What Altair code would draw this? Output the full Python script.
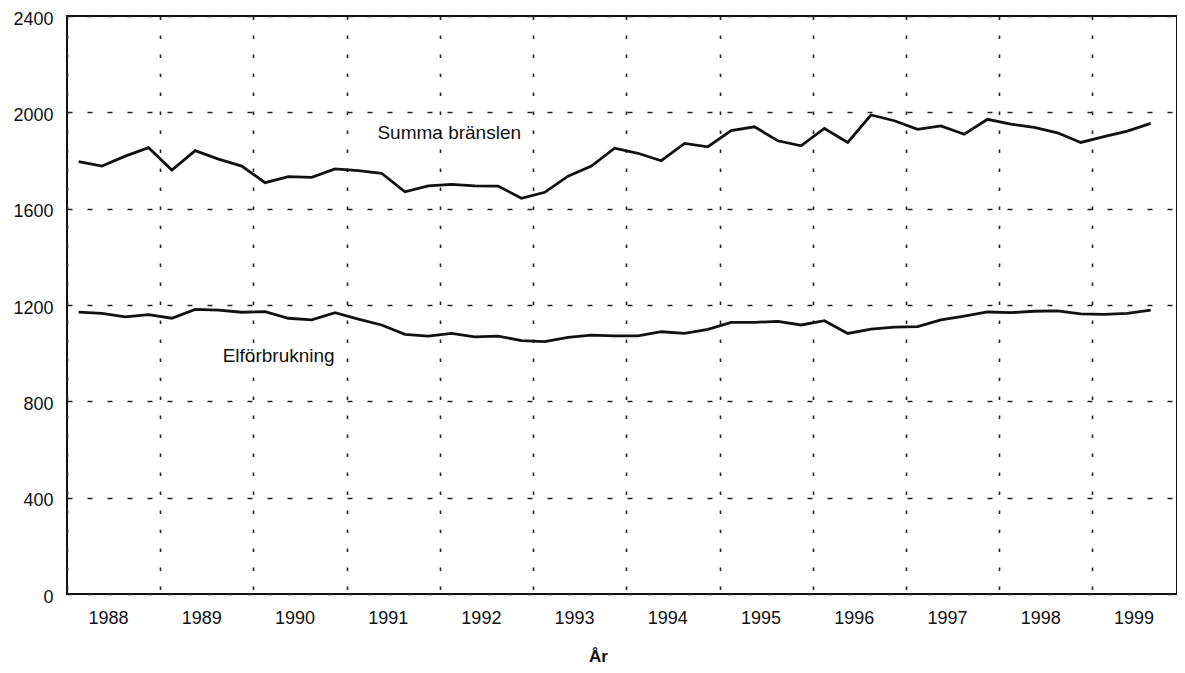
import altair as alt
import pandas as pd

# Quarterly values, 1988 Q1 .. 1999 Q3
start_year = 1988
summa_branslen = [1795, 1777, 1818, 1853, 1760, 1841, 1806, 1777, 1708, 1733, 1730, 1765,
                  1758, 1747, 1670, 1695, 1701, 1695, 1694, 1643, 1668, 1735, 1777, 1851,
                  1830, 1799, 1871, 1857, 1924, 1940, 1882, 1861, 1933, 1875, 1989, 1965,
                  1929, 1944, 1909, 1971, 1951, 1938, 1915, 1875, 1899, 1922, 1954]
elforbrukning = [1170, 1165, 1151, 1160, 1145, 1182, 1179, 1170, 1172, 1145, 1138, 1168,
                 1141, 1117, 1078, 1071, 1082, 1068, 1071, 1052, 1048, 1066, 1075, 1072,
                 1072, 1089, 1082, 1099, 1128, 1128, 1132, 1117, 1135, 1082, 1100, 1108,
                 1110, 1138, 1154, 1171, 1168, 1174, 1176, 1163, 1161, 1165, 1179]
year_ticks = list(range(1988, 2000))
y_ticks = [0, 400, 800, 1200, 1600, 2000, 2400]

label_texts = ["Summa bränslen", "Elförbrukning"]
label_x = [1991.33, 1989.67]
label_y = [1914, 988]

rows = []
for name, vals in [("Summa bränslen", summa_branslen), ("Elförbrukning", elforbrukning)]:
    for k, v in enumerate(vals):
        rows.append({"serie": name, "k": k, "varde": v})
df = pd.DataFrame(rows)
labels = pd.DataFrame({"text": label_texts, "x": label_x, "y": label_y})

FONT = "Liberation Sans"
xscale = alt.Scale(domain=[1988, 1988 + 47.63 / 4], nice=False, zero=False)
yscale = alt.Scale(domain=[0, 2400], nice=False)

xaxis = alt.Axis(values=year_ticks, title="År", grid=True,
                 gridDash=[3.5, 15.5], gridColor="#222222", gridWidth=1.6,
                 ticks=False, domain=False, labelOffset=41, labelFlush=False,
                 labelOverlap=False, labelExpr="format(datum.value, 'd')",
                 labelPadding=15, labelFontSize=18, labelFont=FONT, labelColor="#111111",
                 titleFont=FONT, titleFontSize=17, titleFontWeight="bold",
                 titleColor="#111111", titleX=531, titleY=67,
                 titleBaseline="alphabetic", titleAnchor="start", titleAlign="center")
yaxis = alt.Axis(values=y_ticks, title=None, grid=True, format="d",
                 gridDash=[5, 15], gridColor="#222222", gridWidth=1.6,
                 ticks=False, domain=False, labelPadding=14, labelFlush=False,
                 labelOffset=3,
                 labelFontSize=18, labelFont=FONT, labelColor="#111111")

lines = alt.Chart(df).transform_calculate(
    t=f"{start_year} + (datum.k + 0.5) / 4"
).mark_line(color="#111111", strokeWidth=2.8).encode(
    x=alt.X("t:Q", scale=xscale, axis=xaxis),
    y=alt.Y("varde:Q", scale=yscale, axis=yaxis),
    detail="serie:N",
)

texts = alt.Chart(labels).mark_text(
    align="left", baseline="middle", font=FONT, fontSize=19, color="#111111"
).encode(
    x=alt.X("x:Q", scale=xscale, axis=xaxis),
    y=alt.Y("y:Q", scale=yscale, axis=yaxis),
    text="text:N",
)

chart = alt.layer(lines, texts).properties(
    width=1110, height=578,
    autosize=alt.AutoSizeParams(type="none"),
    padding={"left": 59, "top": 8, "right": 0, "bottom": 71},
).configure_view(stroke="#111111", strokeWidth=2)

chart.save("out.html", embed_options={"renderer": "svg", "actions": False})
